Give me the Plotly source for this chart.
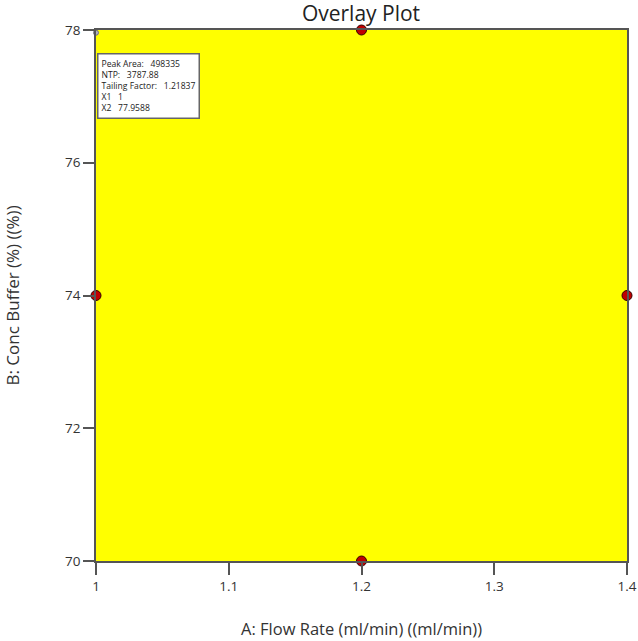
import plotly.graph_objects as go

design_x = [1.2, 1.0, 1.4, 1.2]
design_y = [78, 74, 74, 70]
flag_x = [1.0]
flag_y = [77.9588]
flag_lines = ["Peak Area:   498335", "NTP:   3787.88", "Tailing Factor:   1.21837", "X1   1", "X2   77.9588"]
x_ticks = [1, 1.1, 1.2, 1.3, 1.4]
y_ticks = [70, 72, 74, 76, 78]

fig = go.Figure()
fig.add_shape(type="rect", xref="x", yref="y", x0=1.0, x1=1.4, y0=70, y1=78,
              fillcolor="#FFFF00", line=dict(width=0), layer="below")
fig.add_trace(go.Scatter(x=flag_x, y=flag_y, mode="markers",
                         marker=dict(symbol="circle", size=5, color="#B0B0C0",
                                     line=dict(color="#707080", width=1)),
                         cliponaxis=False, showlegend=False, hoverinfo="skip"))
fig.add_trace(go.Scatter(x=design_x, y=design_y, mode="markers",
                         marker=dict(size=10, color="#C00000", line=dict(color="#300000", width=1)),
                         cliponaxis=False, showlegend=False))
fig.add_annotation(x=flag_x[0], y=flag_y[0], xref="x", yref="y", xanchor="left", yanchor="top",
                   xshift=1, yshift=-20, showarrow=False, align="left",
                   text="<br>".join(flag_lines),
                   font=dict(family="Open Sans", size=8.6, color="#222222"),
                   bgcolor="white", bordercolor="#666666", borderwidth=1.5, borderpad=3)

axis_common = dict(showgrid=False, zeroline=False, showline=True, linecolor="#555555", linewidth=1.5,
                   mirror=True, ticks="outside", tickcolor="#555555", tickwidth=1.5, automargin=False,
                   tickfont=dict(family="Open Sans", size=13.5, color="#333333"))
fig.update_xaxes(range=[1.0, 1.4], tickvals=x_ticks, ticktext=["1", "1.1", "1.2", "1.3", "1.4"],
                 ticklen=12, **axis_common)
fig.update_yaxes(range=[70, 78], tickvals=y_ticks, ticklen=11, **axis_common)
fig.add_annotation(text="A: Flow Rate (ml/min) ((ml/min))", xref="paper", yref="paper",
                   x=0.5, y=0, yshift=-67, yanchor="middle", showarrow=False,
                   font=dict(family="Open Sans", size=16.5, color="#333333"))
fig.add_annotation(text="B: Conc Buffer (%) ((%))", xref="paper", yref="paper",
                   x=0, xshift=-84, y=0.5, textangle=-90, xanchor="center", showarrow=False,
                   font=dict(family="Open Sans", size=17, color="#333333"))
fig.update_layout(width=638, height=641, margin=dict(l=96, r=11, t=30, b=80),
                  paper_bgcolor="white", plot_bgcolor="white",
                  title=dict(text="Overlay Plot", x=361 / 638,
                             xanchor="center", y=0.99, yanchor="top",
                             font=dict(family="Open Sans", size=21, color="#222222")))
fig.write_html("out.html")
